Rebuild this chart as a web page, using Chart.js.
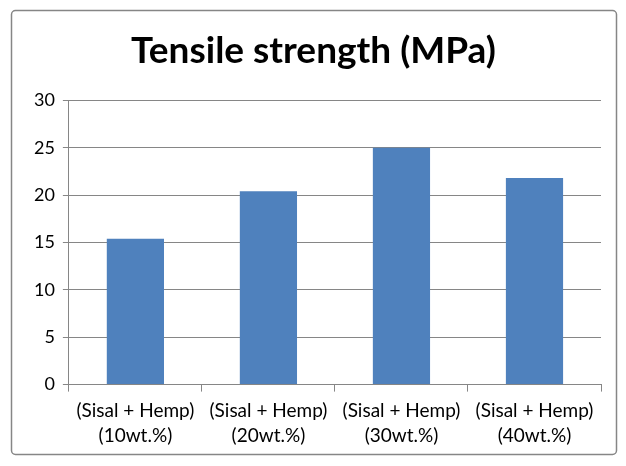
<!DOCTYPE html>
<html><head><meta charset="utf-8">
<script src="https://cdn.jsdelivr.net/npm/chart.js@4"></script>
<style>html,body{margin:0;padding:0;background:#fff}#wrap{width:626px;height:466px;position:relative}</style>
</head><body><div id="wrap"><canvas id="c" width="626" height="466"></canvas></div>
<script>
const categories = [["(Sisal + Hemp)","(10wt.%)"],["(Sisal + Hemp)","(20wt.%)"],["(Sisal + Hemp)","(30wt.%)"],["(Sisal + Hemp)","(40wt.%)"]];
const tensileStrength = [15.4, 20.4, 25.0, 21.8];
const titleText = "Tensile strength (MPa)";
const yMin = 0, yMax = 30, yStep = 5;

const borderPlugin = {
  id: 'outerBorder',
  beforeDraw(chart) {
    const ctx = chart.ctx;
    ctx.save();
    ctx.fillStyle = '#fff';
    ctx.fillRect(0,0,chart.width,chart.height);
    ctx.strokeStyle = '#868686';
    ctx.lineWidth = 1.5;
    ctx.beginPath();
    ctx.roundRect(11.5, 10.5, 605, 444, 4);
    ctx.stroke();
    ctx.restore();
  }
};

new Chart(document.getElementById('c'), {
  type: 'bar',
  data: { labels: categories, datasets: [{ data: tensileStrength, backgroundColor: '#4F81BD', borderWidth: 0, barPercentage: 0.43, categoryPercentage: 1 }] },
  options: {
    responsive: false, animation: false,
    layout: { padding: { left: 26, right: 25, top: 20, bottom: 11 } },
    plugins: {
      legend: { display: false }, tooltip: { enabled: false },
      title: { display: true, text: titleText, color: '#000', font: { family: 'Lato', size: 37, weight: 'bold' }, padding: { top: 9, bottom: 27 } }
    },
    scales: {
      x: {
        grid: { display: true, drawOnChartArea: false, drawTicks: true, tickLength: 7, offset: true, color: '#868686' },
        border: { color: '#868686', width: 1 },
        ticks: { color: '#000', font: { family: 'Lato', size: 19, lineHeight: 1.3 }, padding: 7, maxRotation: 0, autoSkip: false }
      },
      y: {
        min: yMin, max: yMax,
        grid: { color: '#868686', tickLength: 6, drawTicks: true },
        border: { color: '#868686', width: 1 },
        ticks: { stepSize: yStep, color: '#000', font: { family: 'Lato', size: 18 }, padding: 8 }
      }
    }
  },
  plugins: [borderPlugin]
});
</script></body></html>
